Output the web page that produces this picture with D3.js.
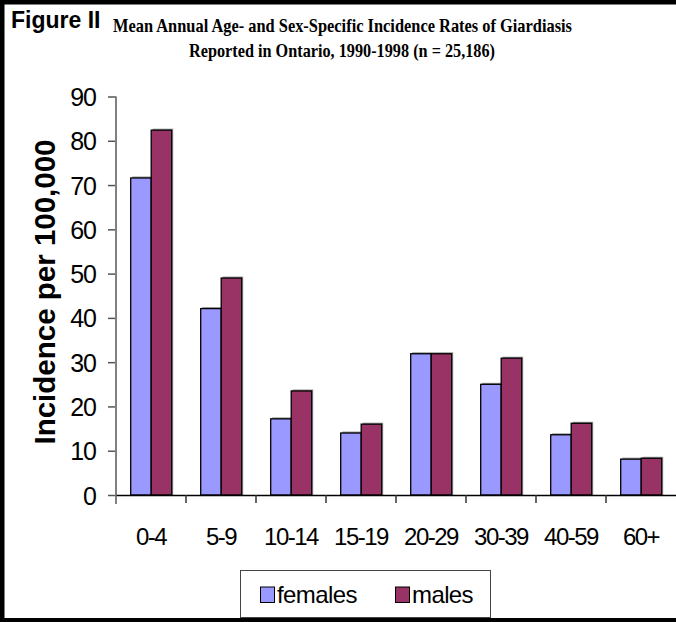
<!DOCTYPE html>
<html><head><meta charset="utf-8">
<script src="https://cdn.jsdelivr.net/npm/d3@7"></script>
<style>body{margin:0;background:#fff}svg{display:block}</style>
</head><body>
<script>
const categories = ["0-4","5-9","10-14","15-19","20-29","30-39","40-59","60+"];
const females = [71.6, 42.1, 17.2, 14.0, 31.9, 25.0, 13.6, 8.1];
const males   = [82.4, 49.0, 23.5, 16.0, 31.9, 30.9, 16.2, 8.3];
const seriesNames = ["females","males"];
const yTicks = [0,10,20,30,40,50,60,70,80,90];
const colors = {females:"#9999FF", males:"#993366"};

const W = 676, H = 622;
const svg = d3.select("body").append("svg").attr("width", W).attr("height", H);
svg.append("rect").attr("width", W).attr("height", H).attr("fill", "#fff");

const x = d3.scaleBand().domain(categories).range([116, 676]);
const x1 = d3.scaleBand().domain(seriesNames).range([14.7, 55.7]);
const y = d3.scaleLinear().domain([0, 90]).range([495, 96.5]);

// title
svg.append("text").attr("x", 11).attr("y", 28).attr("font-family", "Liberation Sans, Arial, sans-serif")
  .attr("font-weight", "bold").attr("font-size", 23).text("Figure II");
svg.append("text").attr("x", 113).attr("y", 32).attr("font-family", "Liberation Serif, Times New Roman, serif")
  .attr("font-weight", "bold").attr("font-size", 19).attr("textLength", 459).attr("lengthAdjust", "spacingAndGlyphs")
  .text("Mean Annual Age- and Sex-Specific Incidence Rates of Giardiasis");
svg.append("text").attr("x", 189).attr("y", 57).attr("font-family", "Liberation Serif, Times New Roman, serif")
  .attr("font-weight", "bold").attr("font-size", 19).attr("textLength", 306).attr("lengthAdjust", "spacingAndGlyphs")
  .text("Reported in Ontario, 1990-1998 (n = 25,186)");

// bars
const data = categories.map((c, i) => ({cat: c, vals: [{s: "females", v: females[i]}, {s: "males", v: males[i]}]}));
const groups = svg.append("g").selectAll("g").data(data).join("g")
  .attr("transform", d => `translate(${x(d.cat)},0)`);
groups.selectAll("rect.shadow").data(d => d.vals).join("rect").attr("class", "shadow")
  .attr("x", d => x1(d.s) + 1.5).attr("y", d => y(d.v) - 1.5)
  .attr("width", x1.bandwidth()).attr("height", d => y(0) - y(d.v) + 1.5)
  .attr("fill", "#9a9a9a");
groups.selectAll("rect.bar").data(d => d.vals).join("rect").attr("class", "bar")
  .attr("x", d => x1(d.s)).attr("y", d => y(d.v))
  .attr("width", x1.bandwidth()).attr("height", d => y(0) - y(d.v))
  .attr("fill", d => colors[d.s]).attr("stroke", "#000").attr("stroke-width", 1.3);

// y axis
const yAxis = svg.append("g").attr("transform", "translate(116,0)")
  .call(d3.axisLeft(y).tickValues(yTicks).tickSize(8).tickPadding(12).tickFormat(d3.format("d")));
yAxis.select(".domain").remove();
yAxis.append("line").attr("x1", 0).attr("x2", 0).attr("y1", y(90)).attr("y2", 504)
  .attr("stroke", "#808080").attr("stroke-width", 2);
yAxis.selectAll(".tick line").attr("stroke", "#555").attr("stroke-width", 1.5);
yAxis.selectAll(".tick text").attr("font-family", "Liberation Sans, Arial, sans-serif")
  .attr("font-size", 25).attr("letter-spacing", -1).attr("fill", "#000").attr("dy", "0.36em");

// x axis
const xAxis = svg.append("g").attr("transform", `translate(0,${y(0)})`)
  .call(d3.axisBottom(x).tickSize(0).tickPadding(40));
xAxis.select(".domain").attr("stroke", "#000").attr("stroke-width", 1.6);
xAxis.selectAll(".tick text").attr("font-family", "Liberation Sans, Arial, sans-serif")
  .attr("font-size", 24).attr("letter-spacing", -1.5).attr("fill", "#000").attr("dy", 0)
  .attr("y", 50);
const bounds = categories.slice(1).map(c => x(c));
xAxis.selectAll("line.bound").data(bounds).join("line").attr("class", "bound")
  .attr("x1", d => d).attr("x2", d => d).attr("y1", 0).attr("y2", 8)
  .attr("stroke", "#333").attr("stroke-width", 1.5);

// y label
svg.append("text").attr("transform", "translate(55,292) rotate(-90)").attr("text-anchor", "middle")
  .attr("font-family", "Liberation Sans, Arial, sans-serif").attr("font-weight", "bold")
  .attr("font-size", 29.5).text("Incidence per 100,000");

// legend
const lg = svg.append("g");
lg.append("rect").attr("x", 240.5).attr("y", 570.5).attr("width", 250).attr("height", 47)
  .attr("fill", "#fff").attr("stroke", "#444").attr("stroke-width", 1);
const legendItems = [{s: "females", x: 260}, {s: "males", x: 395}];
legendItems.forEach(it => {
  lg.append("rect").attr("x", it.x + 0.5).attr("y", 587).attr("width", 14).attr("height", 15.5)
    .attr("fill", colors[it.s]).attr("stroke", "#000").attr("stroke-width", 1);
  lg.append("text").attr("x", it.x + 17).attr("y", 603).attr("font-family", "Liberation Sans, Arial, sans-serif")
    .attr("font-size", 24).attr("letter-spacing", -0.6).text(it.s);
});

// frame
svg.append("rect").attr("x", 0).attr("y", 0).attr("width", W).attr("height", 4.5).attr("fill", "#000");
svg.append("rect").attr("x", 0).attr("y", 0).attr("width", 4.5).attr("height", H).attr("fill", "#000");
svg.append("rect").attr("x", 0).attr("y", 618).attr("width", W).attr("height", 4).attr("fill", "#000");
</script>
</body></html>
